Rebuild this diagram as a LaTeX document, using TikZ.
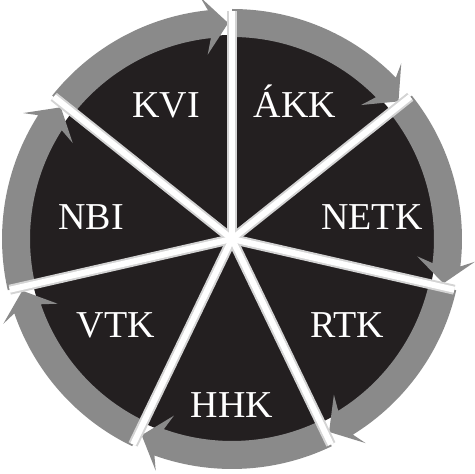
\documentclass[tikz,border=0pt]{standalone}
\usepackage{fontspec}
\setmainfont{Liberation Serif}
\definecolor{discfill}{RGB}{35,31,32}
\definecolor{ringfill}{RGB}{138,138,138}
\definecolor{sepedge}{RGB}{212,212,212}
\begin{document}
\begin{tikzpicture}[x=1pt,y=1pt,
  lab/.style={text=white, font=\fontsize{38}{42}\selectfont, anchor=base, inner sep=0pt},
  sepline/.style={sepedge, line width=10pt, line cap=butt},
  sepcore/.style={white, line width=6pt, line cap=butt}]
\useasboundingbox (0,0) rectangle (475,474);
\begin{scope}[shift={(232,235)}]
  \coordinate (c) at (0,0);
  \fill[discfill] (c) circle[radius=204];
  \foreach \k in {0,...,6}{
    \pgfmathsetmacro\a{90-360/7*\k}
    \pgfmathsetmacro\b{\a-360/7}
    \fill[ringfill] (\a:202) arc[start angle=\a, end angle={\b+6}, radius=202]
      -- ({\b+7.5}:186) -- ({\b+1}:216) -- ({\b+7.5}:244) -- ({\b+6}:230)
      arc[start angle={\b+6}, end angle=\a, radius=230] -- cycle;
  }
  \foreach \k in {0,...,6}{
    \coordinate (e\k) at ({90-360/7*\k}:228);
  }
  \foreach \k in {0,...,6}{
    \draw[sepline] (c) -- (e\k);
  }
  \foreach \k in {0,...,6}{
    \draw[sepcore] (c) -- (e\k);
  }
\end{scope}
\node[lab] (kvi) at (166,356) {KVI};
\node[lab] (akk) at (295,356) {ÁKK};
\node[lab] (netk) at (372,244) {NETK};
\node[lab] (rtk) at (347,136) {RTK};
\node[lab] (hhk) at (232,56) {HHK};
\node[lab] (vtk) at (116,136) {VTK};
\node[lab] (nbi) at (91,244) {NBI};
\end{tikzpicture}
\end{document}
